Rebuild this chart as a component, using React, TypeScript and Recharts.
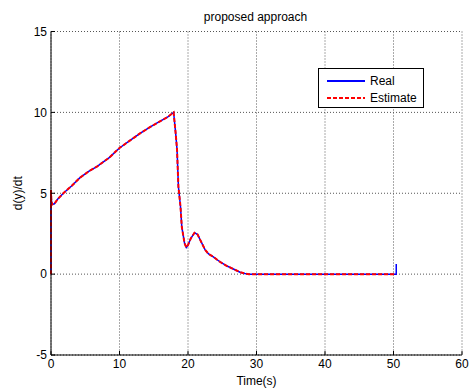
import React from "react";
import {
  LineChart,
  Line,
  XAxis,
  YAxis,
  CartesianGrid,
  Legend,
} from "recharts";

// Time samples (s) and the two derivative traces d(y)/dt.
const time = [
  0, 0, 0.05, 0.15, 0.5, 1, 1.8, 3, 4.2, 5.5, 6.7, 8.5, 10, 11.5, 13, 14.5,
  15.5, 17, 17.9, 18.2, 18.4, 18.6, 18.9, 19.1, 19.5, 19.75, 20.0, 20.4, 20.95,
  21.4, 21.8, 22.5, 23.0, 23.7, 24.7, 25.7, 26.7, 27.6, 28.3, 28.9, 35, 40, 45,
  50.4, 50.4,
];
const real = [
  0, 5.2, 4.6, 4.3, 4.35, 4.65, 5.0, 5.45, 5.95, 6.35, 6.65, 7.2, 7.8, 8.25,
  8.7, 9.1, 9.35, 9.7, 10, 8.7, 7.7, 5.4, 4.2, 2.9, 1.9, 1.65, 1.8, 2.2, 2.56,
  2.45, 2.1, 1.5, 1.25, 1.07, 0.75, 0.5, 0.3, 0.12, 0.04, 0, 0, 0, 0, 0, 0.62,
];
const estimate = [
  0, 5.2, 4.6, 4.3, 4.35, 4.65, 5.0, 5.45, 5.95, 6.35, 6.65, 7.2, 7.8, 8.25,
  8.7, 9.1, 9.35, 9.7, 10, 8.7, 7.7, 5.4, 4.2, 2.9, 1.9, 1.65, 1.8, 2.2, 2.56,
  2.45, 2.1, 1.5, 1.25, 1.07, 0.75, 0.5, 0.3, 0.12, 0.04, 0, 0, 0, 0, 0, null,
];
const xTicks = [0, 10, 20, 30, 40, 50, 60];
const yTicks = [-5, 0, 5, 10, 15];

const data = time.map((t, i) => ({ t, real: real[i], estimate: estimate[i] }));

const FONT = "'Liberation Sans', Arial, sans-serif";
const tickStyle = { fontSize: 12, fill: "#000", fontFamily: FONT };

const legendOrder = ["real", "estimate"];
const legendStyle: Record<string, { color: string; dash?: string; width: number }> = {
  real: { color: "#0000ff", width: 2 },
  estimate: { color: "#ff0000", dash: "4 2", width: 2 },
};

function MatlabLegend(props: any) {
  const payload = [...(props.payload ?? [])].sort(
    (a: any, b: any) => legendOrder.indexOf(a.dataKey) - legendOrder.indexOf(b.dataKey)
  );
  return (
    <div
      style={{
        width: 106,
        height: 40,
        border: "1px solid #000",
        background: "#fff",
        fontFamily: FONT,
        fontSize: 12,
        paddingTop: 3,
        boxSizing: "border-box",
      }}
    >
      {payload.map((entry: any) => {
        const s = legendStyle[entry.dataKey] ?? { color: entry.color, width: 2 };
        return (
          <div
            key={entry.dataKey}
            style={{ display: "flex", alignItems: "center", height: 17 }}
          >
            <svg width={48} height={16}>
              <line
                x1={8}
                x2={46}
                y1={8}
                y2={8}
                stroke={s.color}
                strokeWidth={s.width}
                strokeDasharray={s.dash}
              />
            </svg>
            <span style={{ marginLeft: 3 }}>{entry.value}</span>
          </div>
        );
      })}
    </div>
  );
}

export default function App() {
  return (
    <div
      style={{
        position: "absolute",
        left: 0,
        top: 0,
        width: 469,
        height: 390,
        background: "#fff",
        fontFamily: FONT,
      }}
    >
      <div
        style={{
          position: "absolute",
          left: 0,
          top: 10,
          width: 511,
          textAlign: "center",
          fontSize: 12,
        }}
      >
        proposed approach
      </div>
      <LineChart
        width={469}
        height={390}
        data={data}
        margin={{ top: 31.5, right: 7, bottom: 5, left: 11 }}
      >
        <CartesianGrid stroke="#555" strokeDasharray="1 2" />
        <XAxis
          dataKey="t"
          type="number"
          domain={[0, 60]}
          ticks={xTicks}
          height={30}
          tick={tickStyle}
          tickSize={-4}
          tickMargin={8}
          axisLine={{ stroke: "#000" }}
          tickLine={{ stroke: "#000" }}
          label={{
            value: "Time(s)",
            position: "insideBottom",
            offset: 0,
            style: { fontSize: 12, fill: "#000", fontFamily: FONT },
          }}
        />
        <XAxis
          xAxisId="top"
          orientation="top"
          dataKey="t"
          type="number"
          domain={[0, 60]}
          ticks={xTicks}
          height={0}
          tick={false}
          tickSize={-4}
          axisLine={{ stroke: "#000" }}
          tickLine={{ stroke: "#000" }}
        />
        <YAxis
          type="number"
          domain={[-5, 15]}
          ticks={yTicks}
          width={40}
          tick={tickStyle}
          tickSize={-4}
          tickMargin={8}
          axisLine={{ stroke: "#000" }}
          tickLine={{ stroke: "#000" }}
          label={{
            value: "d(y)/dt",
            angle: -90,
            position: "insideLeft",
            offset: 7,
            style: { fontSize: 12, fill: "#000", fontFamily: FONT, textAnchor: "middle" },
          }}
        />
        <YAxis
          yAxisId="right"
          orientation="right"
          type="number"
          domain={[-5, 15]}
          ticks={yTicks}
          width={0}
          tick={false}
          tickSize={-4}
          axisLine={{ stroke: "#000" }}
          tickLine={{ stroke: "#000" }}
        />
        <Legend
          layout="vertical"
          align="center"
          verticalAlign="middle"
          content={MatlabLegend}
          wrapperStyle={{ left: 318, top: 68, width: 106, height: 40 }}
        />
        <Line
          name="Real"
          dataKey="real"
          type="linear"
          stroke="#0000ff"
          strokeWidth={1.5}
          dot={false}
          isAnimationActive={false}
        />
        <Line
          name="Estimate"
          dataKey="estimate"
          type="linear"
          stroke="#ff0000"
          strokeWidth={2}
          strokeDasharray="4 2"
          dot={false}
          connectNulls={false}
          isAnimationActive={false}
        />
      </LineChart>
    </div>
  );
}
